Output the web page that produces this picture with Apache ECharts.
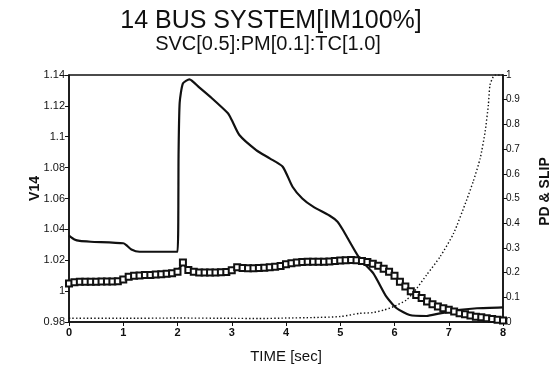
<!DOCTYPE html>
<html>
<head>
<meta charset="utf-8">
<script src="https://cdn.jsdelivr.net/npm/echarts@6/dist/echarts.min.js"></script>
<style>
  html, body { margin: 0; padding: 0; background: #fff; }
  #chart { width: 551px; height: 367px; }
</style>
</head>
<body>
<div id="chart"></div>
<script>
// V14 bus voltage (left axis)
var vTime = [0, 0.1, 0.2, 0.4, 1.0, 1.05, 1.15, 1.3, 2.0, 2.02, 2.04, 2.1, 2.22, 2.4, 2.6, 2.93, 3.0, 3.14, 3.45, 3.7, 3.94, 4.12, 4.3, 4.5, 4.8, 4.95, 5.05, 5.36, 5.61, 5.85, 6.04, 6.28, 6.59, 6.84, 7.21, 7.52, 8.0];
var vVal = [1.036, 1.0335, 1.0325, 1.032, 1.031, 1.030, 1.027, 1.0255, 1.0255, 1.09, 1.122, 1.1346, 1.1372, 1.132, 1.126, 1.1152, 1.1108, 1.1011, 1.0914, 1.086, 1.0806, 1.0676, 1.060, 1.0547, 1.049, 1.045, 1.0396, 1.021, 1.0115, 0.9964, 0.9889, 0.9845, 0.9839, 0.9856, 0.9878, 0.9889, 0.9895];

// square-marker series (left axis), every 0.1 sec
var sqStep = 0.1;
var sqVal = [
  1.005, 1.0058, 1.006, 1.006, 1.0061, 1.0061, 1.0062, 1.0062, 1.0063, 1.0064,
  1.0075, 1.0093, 1.0100, 1.0102, 1.0104, 1.0105, 1.0107, 1.0110, 1.0112, 1.0115,
  1.0126, 1.0185, 1.0137, 1.0125, 1.012, 1.012, 1.012, 1.012, 1.0122, 1.0124,
  1.0135, 1.0155, 1.0150, 1.0148, 1.0148, 1.0150, 1.0152, 1.0155, 1.0158, 1.0162,
  1.0174, 1.018, 1.0185, 1.0188, 1.019, 1.019, 1.019, 1.019, 1.0192, 1.0195,
  1.0198, 1.0200, 1.0202, 1.0200, 1.0195, 1.0188, 1.0178, 1.0165, 1.0145, 1.0125,
  1.0100, 1.006, 1.003, 1.000, 0.9975, 0.9955, 0.9932, 0.9915, 0.990, 0.9889,
  0.988, 0.9868, 0.9856, 0.985, 0.9842, 0.9834, 0.983, 0.9824, 0.982, 0.9815,
  0.981
];

// PD & SLIP dotted series (right axis)
var pTime = [0, 1, 2, 3, 3.5, 4, 4.5, 5, 5.36, 5.6, 5.8, 5.98, 6.22, 6.41, 6.59, 6.84, 7.09, 7.33, 7.45, 7.58, 7.67, 7.73, 7.76, 7.82, 7.86, 8.0];
var pVal = [0.015, 0.015, 0.016, 0.015, 0.014, 0.016, 0.018, 0.022, 0.035, 0.038, 0.048, 0.062, 0.089, 0.136, 0.19, 0.264, 0.359, 0.494, 0.568, 0.663, 0.77, 0.879, 0.96, 0.993, 1.0, 1.0];

var font = '"Liberation Sans", Arial, sans-serif';

var pair = function (xs, ys) {
  return ys.map(function (y, i) { return [xs[i], y]; });
};
var sqData = sqVal.map(function (y, i) { return [+(i * sqStep).toFixed(1), y]; });

var myChart = echarts.init(document.getElementById('chart'));
var option = {
  animation: false,
  backgroundColor: '#fff',
  title: [{
    text: '14 BUS SYSTEM[IM100%]',
    left: 266, top: 4, textAlign: 'center',
    textStyle: { fontFamily: font, fontSize: 25, fontWeight: 'normal', color: '#111' }
  }, {
    text: 'SVC[0.5]:PM[0.1]:TC[1.0]',
    left: 263, top: 29, textAlign: 'center',
    textStyle: { fontFamily: font, fontSize: 20, fontWeight: 'normal', color: '#111' }
  }],
  grid: {
    left: 69, right: 48, top: 75, bottom: 45,
    outerBoundsMode: 'none',
    show: true, borderColor: '#111', borderWidth: 1.5
  },
  xAxis: {
    type: 'value', min: 0, max: 8, interval: 1,
    name: 'TIME [sec]', nameLocation: 'middle', nameGap: 27, nameMoveOverlap: false,
    nameTextStyle: { fontFamily: font, fontSize: 15, color: '#111' },
    axisLine: { lineStyle: { color: '#111', width: 1.5 } },
    axisTick: { length: 4, lineStyle: { color: '#111' } },
    axisLabel: { fontFamily: font, fontSize: 11, fontWeight: 'bold', color: '#111', margin: 5 },
    splitLine: { show: false }
  },
  yAxis: [{
    type: 'value', min: 0.98, max: 1.14, interval: 0.02,
    name: 'V14', nameLocation: 'middle', nameGap: 27, nameRotate: 90, nameMoveOverlap: false,
    nameTextStyle: { fontFamily: font, fontSize: 14, fontWeight: 'bold', color: '#111', padding: [0, 0, 0, 20] },
    axisLine: { show: true, lineStyle: { color: '#111', width: 1.5 } },
    axisTick: { show: true, length: 4, lineStyle: { color: '#111' } },
    axisLabel: { fontFamily: font, fontSize: 11, color: '#111', margin: 4 },
    splitLine: { show: false }
  }, {
    type: 'value', min: 0, max: 1, interval: 0.1, position: 'right',
    name: 'PD & SLIP', nameLocation: 'middle', nameGap: 35, nameRotate: 90, nameMoveOverlap: false,
    nameTextStyle: { fontFamily: font, fontSize: 14, fontWeight: 'bold', color: '#111', padding: [0, 0, 0, 14] },
    axisLine: { show: true, lineStyle: { color: '#111', width: 1.5 } },
    axisTick: { show: true, length: 4, lineStyle: { color: '#111' } },
    axisLabel: { fontFamily: font, fontSize: 10, color: '#111', margin: 3 },
    splitLine: { show: false }
  }],
  series: [{
    name: 'V14',
    type: 'line', yAxisIndex: 0,
    data: pair(vTime, vVal),
    showSymbol: false, smooth: 0.2,
    lineStyle: { color: '#111', width: 2.2 }
  }, {
    name: 'SQ',
    type: 'line', yAxisIndex: 0,
    data: sqData,
    symbol: 'emptyRect', symbolSize: 6, showAllSymbol: true,
    itemStyle: { color: '#111', borderColor: '#111', borderWidth: 1.4 },
    lineStyle: { color: '#111', width: 2.5 }
  }, {
    name: 'PD',
    type: 'line', yAxisIndex: 1,
    data: pair(pTime, pVal),
    showSymbol: false, smooth: 0.2,
    lineStyle: { color: '#111', width: 1.4, type: [1.4, 2.2] }
  }]
};
if (option && typeof option === "object") {
  myChart.setOption(option, true);
}
</script>
</body>
</html>
